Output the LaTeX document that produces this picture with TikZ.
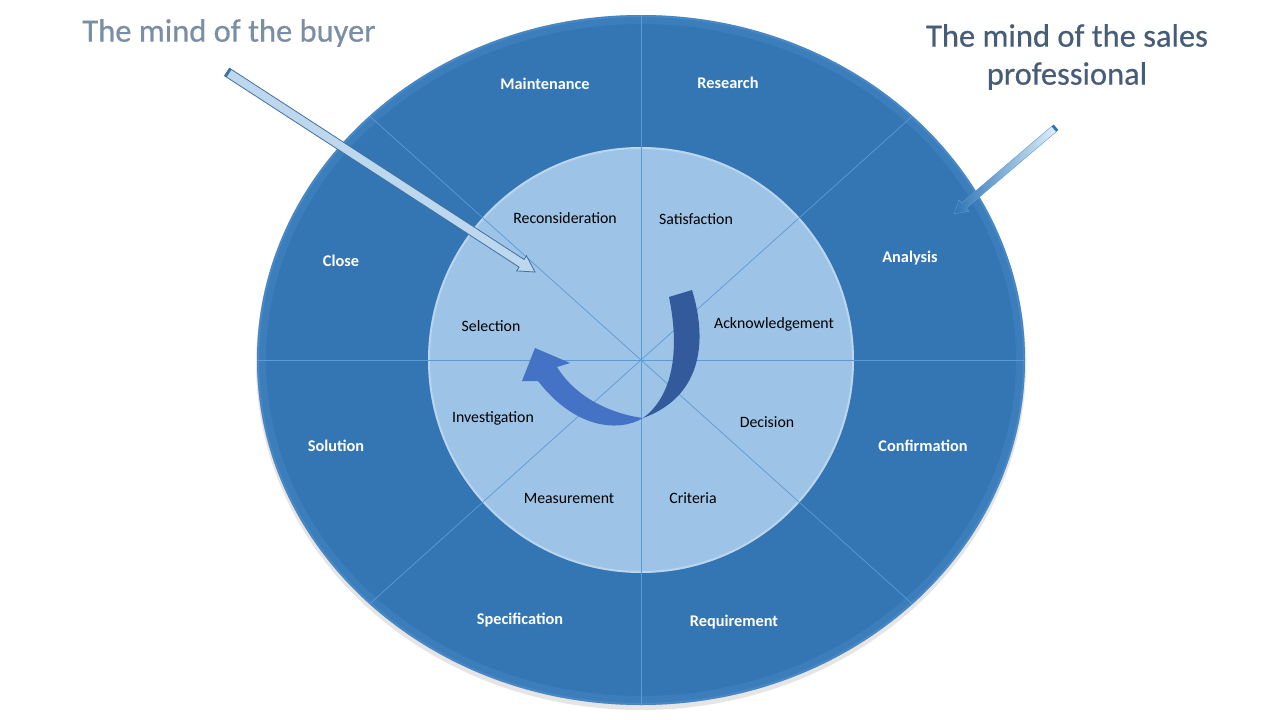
\documentclass[tikz,border=0pt]{standalone}
\usepackage{fontspec}
\setmainfont{Carlito}
\usetikzlibrary{calc}
\definecolor{outerblue}{HTML}{3475B4}
\definecolor{rimblue}{HTML}{5B9BD5}
\definecolor{innerblue}{HTML}{9DC3E6}
\definecolor{lineblue}{HTML}{5B9BD5}
\definecolor{darkribbon}{HTML}{335A9A}
\definecolor{lightribbon}{HTML}{4472C4}
\definecolor{buyertitle}{HTML}{7A8EA6}
\definecolor{salestitle}{HTML}{475D77}
\definecolor{arrowfill}{HTML}{BDD7EE}
\definecolor{arrowedge}{HTML}{41719C}
\definecolor{salesarrowdark}{HTML}{2E75B6}
\definecolor{salesarrowlight}{HTML}{E2EEF9}
\begin{document}
\begin{tikzpicture}[x=1pt,y=-1pt,
  outerlabel/.style={font=\bfseries\fontsize{16.3}{19}\selectfont, text=white, inner sep=0pt},
  innerlabel/.style={font=\fontsize{15.8}{19}\selectfont, text=black, inner sep=0pt},
  titletext/.style={font=\addfontfeature{FakeBold=0.5}\fontsize{32.5}{38}\selectfont, inner sep=0pt, align=center},
  divider/.style={draw=lineblue, line width=0.7pt},
  buyerarrow/.style={fill=arrowfill, draw=arrowedge, line width=0.8pt, line join=miter},
  salesarrow/.style={left color=salesarrowdark, right color=salesarrowlight, draw=rimblue, line width=0.4pt}]
\useasboundingbox (0,0) rectangle (1280,720);
\fill[white] (0,0) rectangle (1280,720);
% centre
\coordinate (c) at (641,360);
% outer ellipse with shadow and rim
\fill[black!20, opacity=0.5] (641,364) ellipse [x radius=385pt, y radius=346pt];
\fill[outerblue] (c) ellipse [x radius=384pt, y radius=345pt];
\draw[rimblue, line width=8pt, opacity=0.22] (c) ellipse [x radius=379pt, y radius=340pt];
\draw[rimblue, line width=2pt, opacity=0.45] (c) ellipse [x radius=383pt, y radius=344pt];
% inner circle
\fill[innerblue] (c) circle [radius=213pt];
\draw[white, line width=2pt, opacity=0.3] (c) circle [radius=212pt];
% dividers
\coordinate (top) at (641,15);
\coordinate (bot) at (641,705);
\coordinate (lft) at (257,360);
\coordinate (rgt) at (1025,360);
\coordinate (tl) at (369.5,116);
\coordinate (br) at (912.5,604);
\coordinate (tr) at (912.5,116);
\coordinate (bl) at (369.5,604);
\draw[divider] (top) -- (bot);
\draw[divider] (lft) -- (rgt);
\draw[divider] (tl) -- (br);
\draw[divider] (tr) -- (bl);
% curved ribbon arrow
\fill[darkribbon] (669,297) -- (692,290) .. controls (706,335) and (706,395) .. (643,418) .. controls (668,400) and (682,360) .. (669,297) -- cycle;
\fill[lightribbon] (643,418) .. controls (620,432) and (576,430) .. (538,381) -- (522,381) -- (535,348) -- (570,363) -- (557,367) .. controls (576,398) and (612,414) .. (643,418) -- cycle;
% outer labels
\node[outerlabel] (maint) at (545,84) {Maintenance};
\node[outerlabel] (research) at (728,83) {Research};
\node[outerlabel] (analysis) at (910,258) {Analysis};
\node[outerlabel] (confirm) at (923,446) {Confirmation};
\node[outerlabel] (require) at (734,622) {Requirement};
\node[outerlabel] (spec) at (520,620) {Specification};
\node[outerlabel] (solution) at (336,446) {Solution};
\node[outerlabel] (close) at (341,261) {Close};
% inner labels
\node[innerlabel] (recons) at (565,218) {Reconsideration};
\node[innerlabel] (satis) at (696,219) {Satisfaction};
\node[innerlabel] (ack) at (774,324) {Acknowledgement};
\node[innerlabel] (decision) at (767,422) {Decision};
\node[innerlabel] (criteria) at (693,498) {Criteria};
\node[innerlabel] (measure) at (569,498) {Measurement};
\node[innerlabel] (invest) at (493,418) {Investigation};
\node[innerlabel] (select) at (491,326) {Selection};
% titles
\node[titletext, text=buyertitle] (buyer) at (229,33) {The mind of the buyer};
\node[titletext, text=salestitle] (sales) at (1067,57) {The mind of the sales\\professional};
% buyer block arrow
\coordinate (bstart) at (227,72);
\coordinate (btip) at (535,272);
\path[buyerarrow] (229.5,68.2) -- (524.1,259.5) -- (526.5,255.8) -- (btip) -- (516.7,270.9) -- (519.1,267.1) -- (224.5,75.8) -- cycle;
\fill[arrowedge] (224.5,75.8) -- (229.5,68.2) -- (231.5,69.6) -- (226.5,77.2) -- cycle;
% sales block arrow
\coordinate (sstart) at (1054,129);
\coordinate (stip) at (954,214);
\path[salesarrow] (1056.3,131.7) -- (966.2,208.3) -- (968.8,211.3) -- (stip) -- (959.0,199.9) -- (961.6,202.9) -- (1051.7,126.3) -- cycle;
\fill[salesarrowdark] (1051.7,126.3) -- (1056.3,131.7) -- (1058.3,129.9) -- (1053.7,124.5) -- cycle;
\end{tikzpicture}
\end{document}
